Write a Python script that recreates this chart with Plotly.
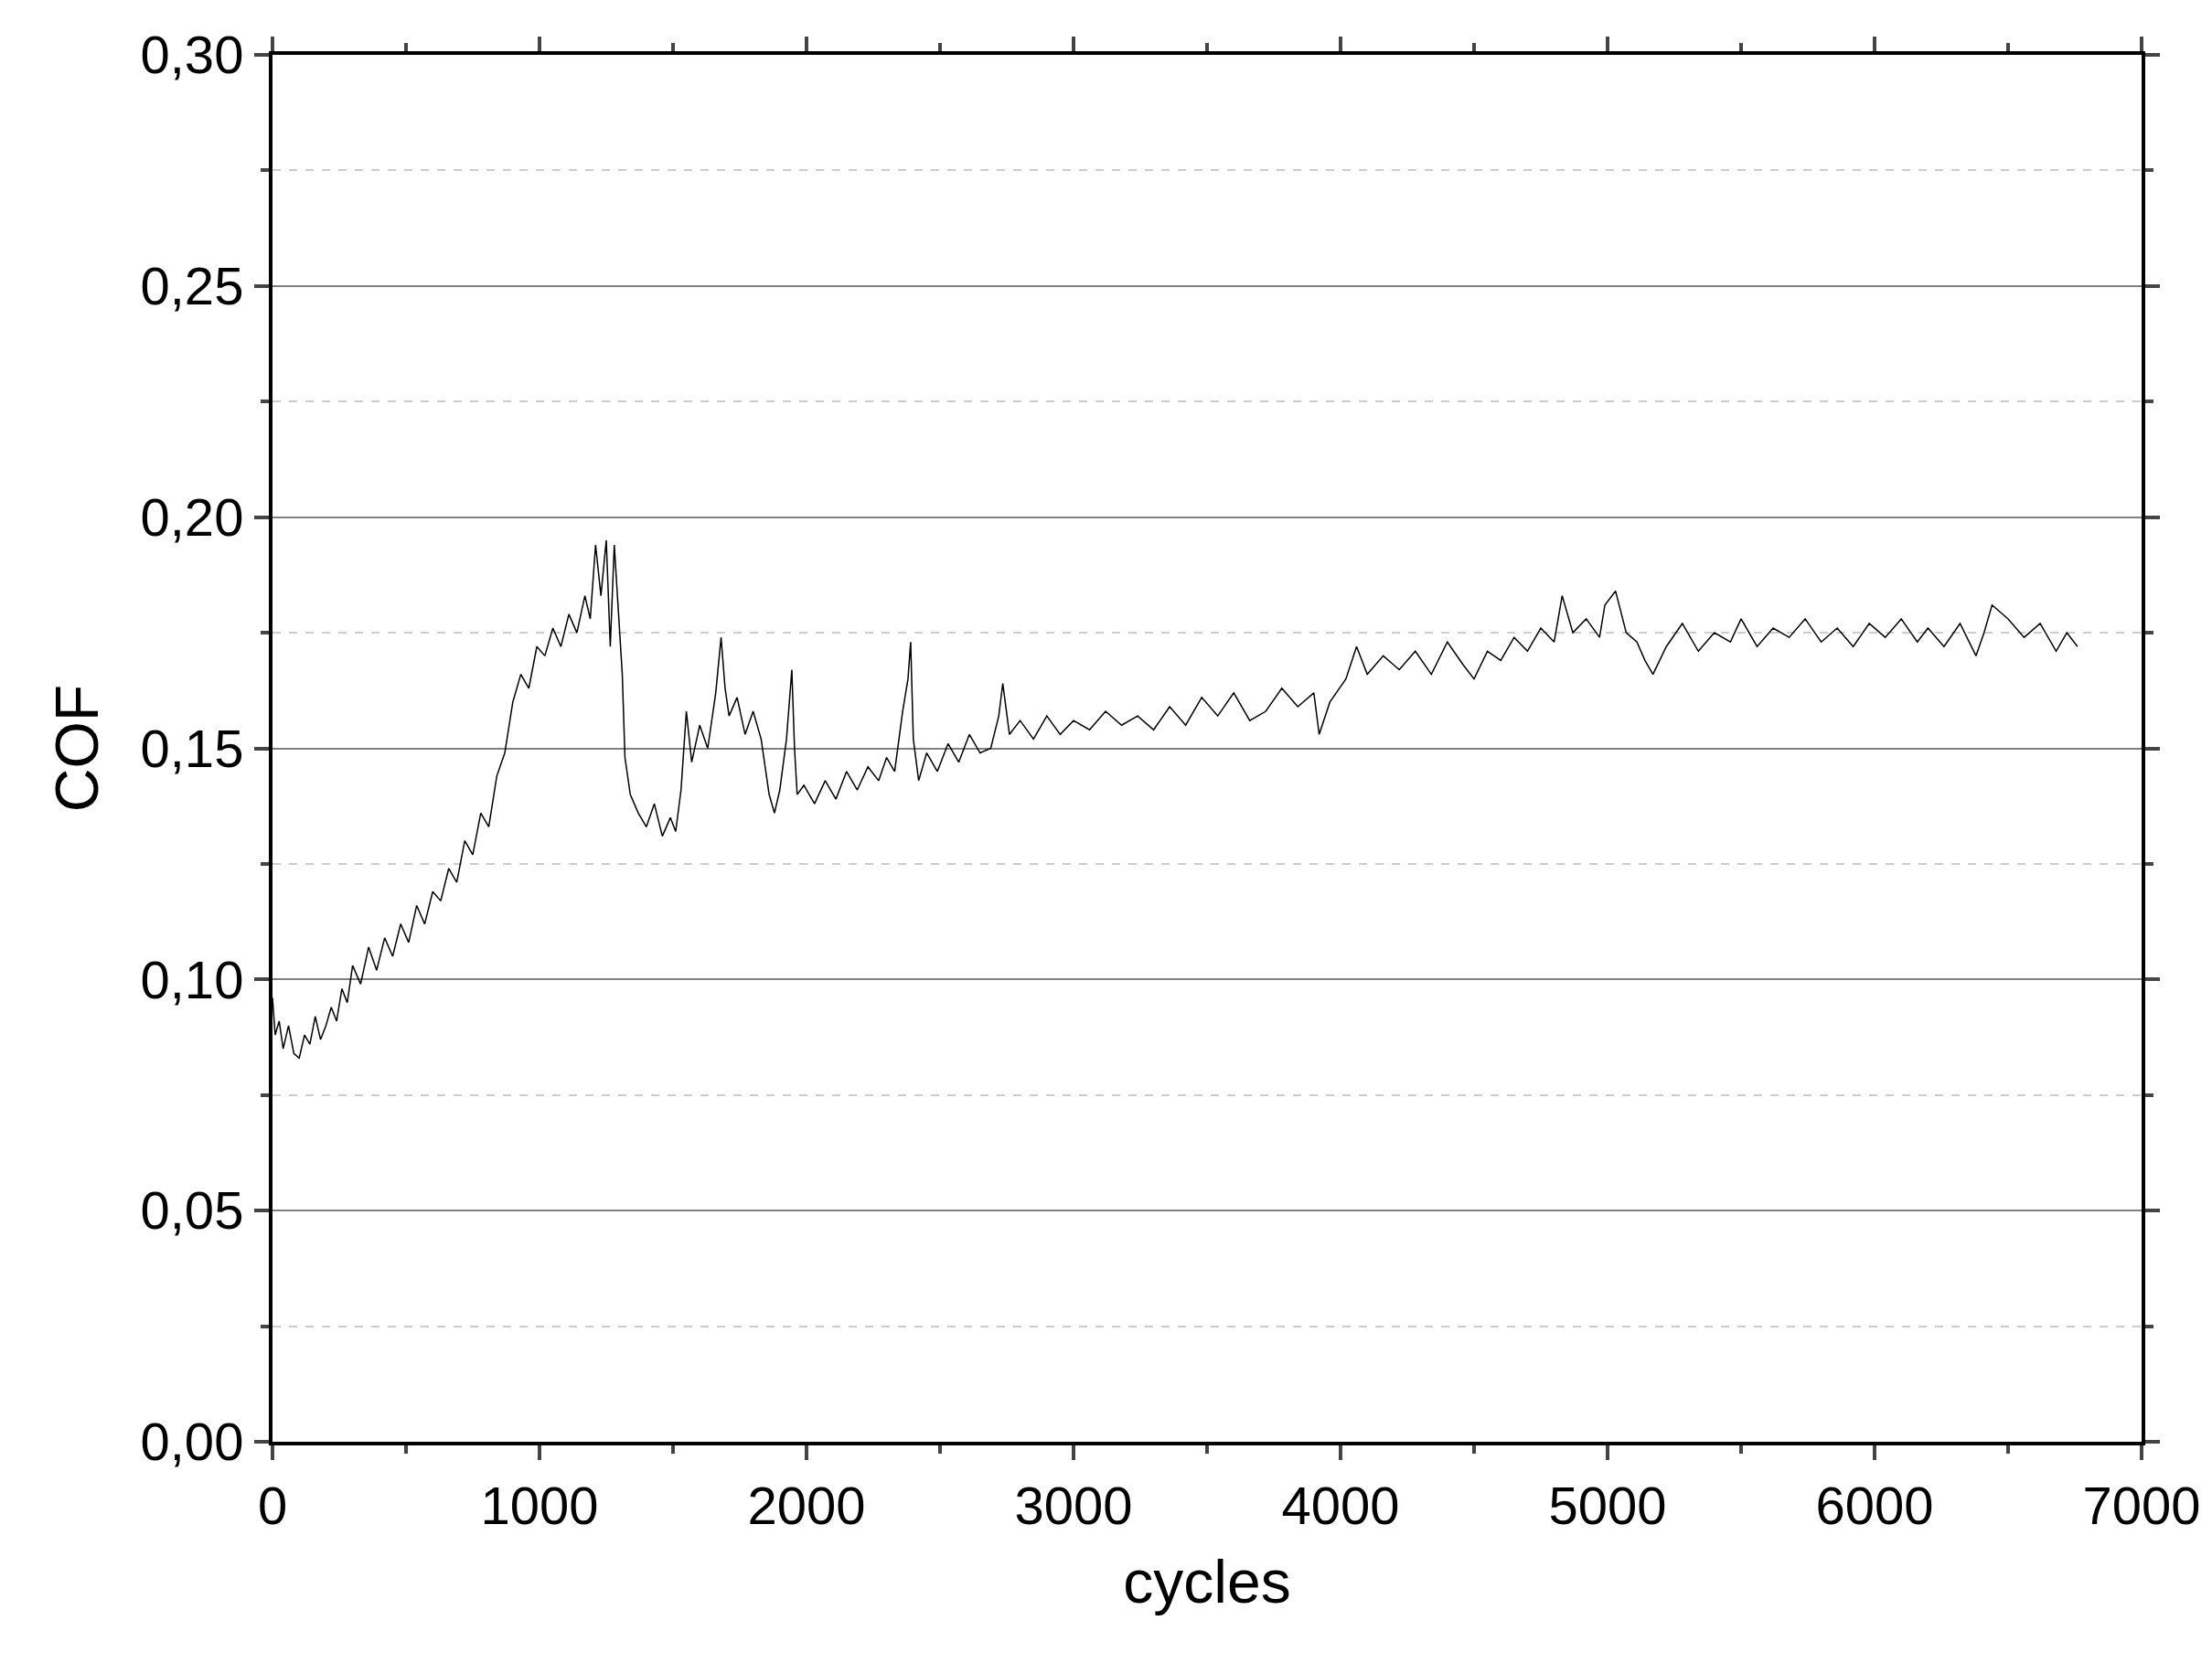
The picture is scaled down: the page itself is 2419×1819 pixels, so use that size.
import plotly.graph_objects as go

cycles = [0,10,25,40,60,80,100,120,140,160,180,200,220,240,260,280,300,330,360,390,420,450,480,510,540,570,600,630,660,690,720,750,780,810,840,870,900,930,960,990,1020,1050,1080,1110,1140,1170,1190,1210,1230,1250,1265,1280,1295,1310,1320,1340,1370,1400,1430,1460,1490,1510,1530,1550,1570,1600,1630,1660,1680,1695,1710,1740,1770,1800,1830,1860,1880,1900,1925,1945,1955,1965,1990,2030,2070,2110,2150,2190,2230,2270,2300,2330,2360,2380,2390,2400,2420,2450,2490,2530,2570,2610,2650,2690,2720,2735,2760,2800,2850,2900,2950,3000,3060,3120,3180,3240,3300,3360,3420,3480,3540,3600,3660,3720,3780,3840,3900,3920,3960,4020,4060,4100,4160,4220,4280,4340,4400,4460,4500,4550,4600,4650,4700,4750,4800,4830,4870,4920,4970,4990,5030,5070,5110,5140,5170,5220,5280,5340,5400,5460,5500,5560,5620,5680,5740,5800,5860,5920,5980,6040,6100,6160,6200,6260,6320,6380,6410,6440,6500,6560,6620,6680,6720,6760]
cof = [0.096,0.088,0.091,0.085,0.090,0.084,0.083,0.088,0.086,0.092,0.087,0.090,0.094,0.091,0.098,0.095,0.103,0.099,0.107,0.102,0.109,0.105,0.112,0.108,0.116,0.112,0.119,0.117,0.124,0.121,0.130,0.127,0.136,0.133,0.144,0.149,0.160,0.166,0.163,0.172,0.170,0.176,0.172,0.179,0.175,0.183,0.178,0.194,0.183,0.195,0.172,0.194,0.180,0.166,0.148,0.140,0.136,0.133,0.138,0.131,0.135,0.132,0.141,0.158,0.147,0.155,0.150,0.162,0.174,0.163,0.157,0.161,0.153,0.158,0.152,0.140,0.136,0.141,0.152,0.167,0.150,0.140,0.142,0.138,0.143,0.139,0.145,0.141,0.146,0.143,0.148,0.145,0.158,0.165,0.173,0.152,0.143,0.149,0.145,0.151,0.147,0.153,0.149,0.150,0.157,0.164,0.153,0.156,0.152,0.157,0.153,0.156,0.154,0.158,0.155,0.157,0.154,0.159,0.155,0.161,0.157,0.162,0.156,0.158,0.163,0.159,0.162,0.153,0.160,0.165,0.172,0.166,0.170,0.167,0.171,0.166,0.173,0.168,0.165,0.171,0.169,0.174,0.171,0.176,0.173,0.183,0.175,0.178,0.174,0.181,0.184,0.175,0.173,0.169,0.166,0.172,0.177,0.171,0.175,0.173,0.178,0.172,0.176,0.174,0.178,0.173,0.176,0.172,0.177,0.174,0.178,0.173,0.176,0.172,0.177,0.170,0.175,0.181,0.178,0.174,0.177,0.171,0.175,0.172,0.176,0.173]

fig = go.Figure(go.Scatter(x=cycles, y=cof, mode="lines", line=dict(color="black", width=1.5)))
font = "Liberation Sans, Arial, sans-serif"
fig.update_layout(
    width=2419, height=1819, paper_bgcolor="white", plot_bgcolor="white",
    margin=dict(l=290, r=85, t=52, b=250), showlegend=False, separators=",.",
    font=dict(family=font, size=58, color="black"),
    xaxis=dict(range=[0, 7000], dtick=1000, showgrid=False, zeroline=False,
               showline=True, linewidth=4, linecolor="black", mirror="ticks",
               ticks="outside", ticklen=16, tickwidth=4,
               minor=dict(dtick=500, ticks="outside", ticklen=9, tickwidth=4),
               title=dict(text="cycles", font=dict(size=66), standoff=30)),
    yaxis=dict(range=[0, 0.30], dtick=0.05, tickformat=".2f", zeroline=False,
               showgrid=True, gridcolor="#808080", gridwidth=1.5,
               showline=True, linewidth=4, linecolor="black", mirror="ticks",
               ticks="outside", ticklen=16, tickwidth=4,
               minor=dict(dtick=0.025, ticks="outside", ticklen=9, tickwidth=4,
                          showgrid=True, gridcolor="#cccccc", griddash="dash", gridwidth=1.5),
               title=dict(text="COF", font=dict(size=66), standoff=25)),
)
fig.write_html("out.html")
